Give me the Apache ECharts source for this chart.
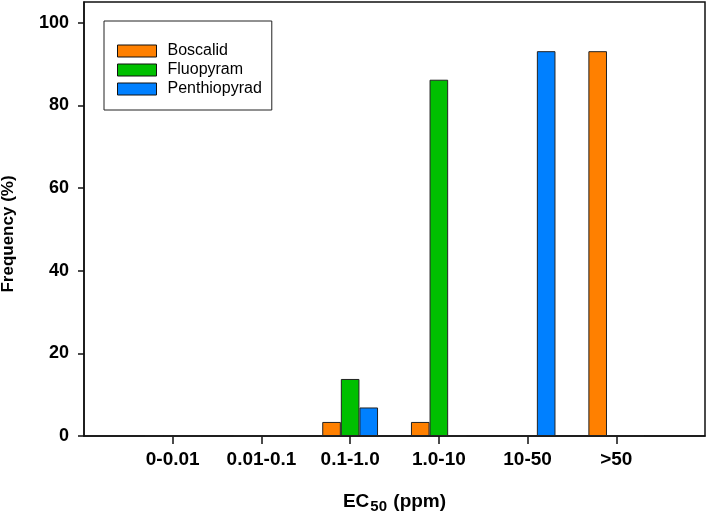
<!DOCTYPE html>
<html>
<head>
<meta charset="utf-8">
<title>EC50 frequency</title>
<script src="https://cdn.jsdelivr.net/npm/echarts@6/dist/echarts.min.js"></script>
<style>
  html, body { margin: 0; padding: 0; background: #fff; }
  #ecChart { width: 708px; height: 518px; }
</style>
</head>
<body>
<div id="ecChart"></div>
<script>
// 数据
var categories = ['0-0.01', '0.01-0.1', '0.1-1.0', '1.0-10', '10-50', '>50'];
var boscalid = [0, 0, 3.4, 3.4, 0, 93.1];
var fluopyram = [0, 0, 13.8, 86.2, 0, 0];
var penthiopyrad = [0, 0, 6.9, 0, 93.1, 0];
var yTicks = [0, 20, 40, 60, 80, 100];

var font = 'Liberation Sans, Arial, sans-serif';

// x轴两端各留一个空位, 刻度落在 1..6
function pad(arr, empty) {
  return [empty].concat(arr, [empty]);
}
function inner(i) {
  return i > 0 && i <= categories.length;
}

function barSeries(name, values, color) {
  return {
    name: name,
    type: 'bar',
    data: pad(values, '-'),
    barWidth: 18.6,
    barGap: '0%',
    itemStyle: {
      color: color,
      borderColor: '#222',
      borderWidth: 1
    }
  };
}

var option = {
  animation: false,
  textStyle: { fontFamily: font },
  grid: {
    left: 84,
    right: 3,
    top: 2,
    bottom: 82,
    outerBoundsMode: 'none',   // 不让标签挤压绘图区
    containLabel: false,
    show: true,
    borderColor: '#111',
    borderWidth: 1.5
  },
  legend: {
    orient: 'vertical',
    left: 104,
    top: 21,
    padding: [22, 10, 13, 13],
    itemWidth: 39,
    itemHeight: 12,
    itemGap: 3,
    icon: 'rect',
    borderColor: '#222',
    borderWidth: 1,
    itemStyle: { borderColor: '#111', borderWidth: 1 },
    textStyle: {
      fontFamily: font,
      fontSize: 16,
      color: '#000',
      padding: [0, 0, 0, 6]
    },
    data: ['Boscalid', 'Fluopyram', 'Penthiopyrad']
  },
  xAxis: {
    type: 'category',
    boundaryGap: false,
    data: pad(categories, ''),
    name: '{a|EC}{b|50}{a| (ppm)}',
    nameLocation: 'middle',
    nameGap: 56,
    nameTextStyle: {
      rich: {
        a: { fontFamily: font, fontSize: 19, fontWeight: 'bold', color: '#000', lineHeight: 22, verticalAlign: 'top' },
        b: { fontFamily: font, fontSize: 15, fontWeight: 'bold', color: '#000', lineHeight: 18, verticalAlign: 'bottom', padding: [9, 1, 0, 1] }
      }
    },
    axisLine: { lineStyle: { color: '#111', width: 1.5 } },
    axisTick: {
      length: 8,
      interval: function (i) { return inner(i); },
      lineStyle: { color: '#111', width: 1.5 }
    },
    axisLabel: {
      interval: function (i) { return inner(i); },
      margin: 14,
      fontFamily: font,
      fontSize: 19,
      fontWeight: 'bold',
      color: '#000'
    },
    splitLine: { show: false }
  },
  yAxis: {
    type: 'value',
    min: 0,
    max: 105,
    interval: 20,
    name: 'Frequency (%)',
    nameLocation: 'middle',
    nameGap: 67,
    nameTextStyle: {
      fontFamily: font,
      fontSize: 17,
      fontWeight: 'bold',
      color: '#000',
      padding: [0, 30, 0, 0]
    },
    axisLine: { show: true, lineStyle: { color: '#111', width: 1.5 } },
    axisTick: {
      show: true,
      length: 6,
      customValues: yTicks,
      lineStyle: { color: '#111', width: 1.5 }
    },
    axisLabel: {
      customValues: yTicks,
      margin: 15,
      fontFamily: font,
      fontSize: 18,
      fontWeight: 'bold',
      color: '#000'
    },
    splitLine: { show: false }
  },
  series: [
    barSeries('Boscalid', boscalid, '#FF8000'),
    barSeries('Fluopyram', fluopyram, '#00C000'),
    barSeries('Penthiopyrad', penthiopyrad, '#0080FF')
  ]
};

var chart = echarts.init(document.getElementById('ecChart'));
chart.setOption(option, true);
</script>
</body>
</html>
